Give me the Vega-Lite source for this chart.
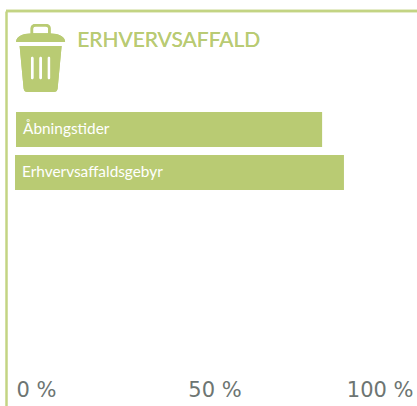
{
"$schema":"https://vega.github.io/schema/vega-lite/v6.json",
"width":411,"height":395,"autosize":"none","padding":{"left":6,"top":11,"right":0,"bottom":0},
"background":"white",
"config":{"view":{"stroke":null}},
"data":{"values":[{"label":"Åbningstider","start":0,"value":77.1},{"label":"Erhvervsaffaldsgebyr","start":-0.25,"value":82.6}]},
"layer":[
{"mark":{"type":"bar","color":"#b9cb73"},
"encoding":{
"y":{"field":"label","type":"nominal","title":null,
 "scale":{"domain":["head","gap","Åbningstider","Erhvervsaffaldsgebyr","r5","r6","r7","r8","r9"],"paddingInner":0.186,"paddingOuter":0.186,"align":0.9375},
 "axis":{"domainColor":"#c3d483","domainWidth":2.5,"ticks":false,"labels":false,"title":null}},
"x":{"field":"start","type":"quantitative","title":null,
 "scale":{"domain":[-2.52,101],"nice":false,"zero":false},
 "axis":{"orient":"bottom","grid":false,"domain":false,"ticks":false,"values":[0,50,100],"labelExpr":"datum.value+' %'","labelFontSize":21,"labelFont":"DejaVu Sans","labelColor":"#6d7572","labelPadding":-27,"labelBaseline":"top","labelFlush":false,"labelOverlap":false,"labelAlign":{"expr":"datum.value==0?'left':datum.value==100?'right':'center'"}}},
"x2":{"field":"value"}}},
{"mark":{"type":"text","align":"left","baseline":"middle","dx":7,"color":"white","font":"Lato","fontSize":15.4},
"encoding":{"y":{"field":"label","type":"nominal"},"x":{"field":"start","type":"quantitative"},"text":{"field":"label"}}},
{"mark":{"type":"text","align":"left","baseline":"middle","dy":-2,"color":"#b9cb73","font":"Lato","fontSize":21},
"encoding":{"y":{"datum":"head"},"x":{"datum":15.4},"text":{"value":"ERHVERVSAFFALD"}}},
{"mark":{"type":"point","filled":true,"opacity":1,"color":"#b9cb73","size":4,"strokeWidth":0,
"shape":"M-24.5 -1.5C-24.5 -7 -18 -10 -10 -10L-10 -15Q-10 -19.5 -5 -19.5L5 -19.5Q10 -19.5 10 -15L10 -10C18 -10 24.5 -7 24.5 -1.5L-22 -1.5C-21 -3.5 21 -3.5 22 -1.5L24.5 -1.5ZM-7.5 -10.3L7.5 -10.3L7.5 -15Q7.5 -17 5 -17L-5 -17Q-7.5 -17 -7.5 -15ZM-21 2.5L21 2.5L17 45Q16.5 48.5 13 48.5L-13 48.5Q-16.5 48.5 -17 45ZM-9.8 14.5L-9.8 34.5A1.5 1.5 0 0 0 -6.8 34.5L-6.8 14.5A1.5 1.5 0 0 0 -9.8 14.5ZM-1.5 14.5L-1.5 34.5A1.5 1.5 0 0 0 1.5 34.5L1.5 14.5A1.5 1.5 0 0 0 -1.5 14.5ZM6.8 14.5L6.8 34.5A1.5 1.5 0 0 0 9.8 34.5L9.8 14.5A1.5 1.5 0 0 0 6.8 14.5Z"},
"encoding":{"y":{"datum":"head"},"x":{"datum":6.2}}},
{"mark":{"type":"rule","color":"#c3d483","strokeWidth":2.5},
"encoding":{"x":{"datum":-2.52},"x2":{"datum":101},"y":{"value":0}}}
]
}
